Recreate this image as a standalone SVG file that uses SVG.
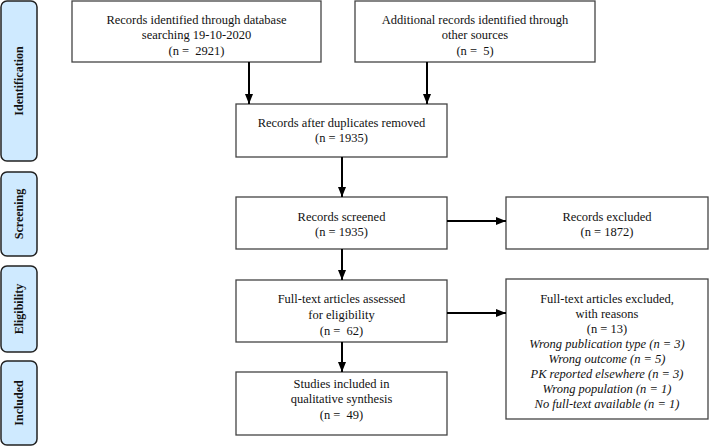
<svg xmlns="http://www.w3.org/2000/svg" width="709" height="446" viewBox="0 0 709 446">
<defs>
<marker id="ah" viewBox="0 0 10 8" refX="10" refY="4" markerWidth="10" markerHeight="8" markerUnits="userSpaceOnUse" orient="auto">
<path d="M0,0 L10,4 L0,8 Z" fill="#000"/>
</marker>
</defs>
<style>
.box{fill:#fff;stroke:#444;stroke-width:1.3}
.side{fill:#cfeaff;stroke:#222;stroke-width:1.5}
.t{font-family:"Liberation Serif","Times New Roman",serif;font-size:12.5px;fill:#111;text-anchor:middle;white-space:pre}
.i{font-style:italic}
.st{font-family:"Liberation Serif","Times New Roman",serif;font-size:12px;font-weight:bold;fill:#111;text-anchor:middle}
.c{stroke:#000;stroke-width:2;fill:none;marker-end:url(#ah)}
</style>
<rect width="709" height="446" fill="#fff"/>
<g id="phase-identification"><rect class="side" x="1" y="1" width="36" height="160" rx="6"/><text class="st" transform="translate(23,81) rotate(-90)">Identification</text></g>
<g id="phase-screening"><rect class="side" x="1" y="172" width="36" height="84" rx="6"/><text class="st" transform="translate(23,214) rotate(-90)">Screening</text></g>
<g id="phase-eligibility"><rect class="side" x="1" y="266" width="36" height="86" rx="6"/><text class="st" transform="translate(23,309) rotate(-90)">Eligibility</text></g>
<g id="phase-included"><rect class="side" x="1" y="361" width="36" height="84" rx="6"/><text class="st" transform="translate(23,403) rotate(-90)">Included</text></g>

<g id="db-records"><rect class="box" x="72" y="1" width="249" height="61"/>
<text class="t" x="196.5" y="24">Records identified through database</text>
<text class="t" x="196.5" y="39">searching 19-10-2020</text>
<text class="t" x="196.5" y="55">(n =  2921)</text></g>
<g id="other-records"><rect class="box" x="355" y="1" width="240" height="61"/>
<text class="t" x="475" y="24">Additional records identified through</text>
<text class="t" x="475" y="39">other sources</text>
<text class="t" x="475" y="55">(n =  5)</text></g>
<g id="dedup"><rect class="box" x="236" y="104" width="211" height="53"/>
<text class="t" x="341.5" y="127">Records after duplicates removed</text>
<text class="t" x="341.5" y="142">(n = 1935)</text></g>
<g id="screened"><rect class="box" x="236" y="197" width="211" height="52"/>
<text class="t" x="341.5" y="221">Records screened</text>
<text class="t" x="341.5" y="236">(n = 1935)</text></g>
<g id="excluded"><rect class="box" x="506" y="197" width="202" height="52"/>
<text class="t" x="607" y="221">Records excluded</text>
<text class="t" x="607" y="236">(n = 1872)</text></g>
<g id="fulltext"><rect class="box" x="236" y="280" width="211" height="62"/>
<text class="t" x="341.5" y="303">Full-text articles assessed</text>
<text class="t" x="341.5" y="319">for eligibility</text>
<text class="t" x="341.5" y="335">(n =  62)</text></g>
<g id="fulltext-excluded"><rect class="box" x="506" y="279" width="202" height="140"/>
<text class="t" x="607" y="303">Full-text articles excluded,</text>
<text class="t" x="607" y="318">with reasons</text>
<text class="t" x="607" y="333">(n = 13)</text>
<text class="t i" x="607" y="348">Wrong publication type (n = 3)</text>
<text class="t i" x="607" y="363">Wrong outcome (n = 5)</text>
<text class="t i" x="607" y="378">PK reported elsewhere (n = 3)</text>
<text class="t i" x="607" y="393">Wrong population (n = 1)</text>
<text class="t i" x="607" y="408">No full-text available (n = 1)</text></g>
<g id="included"><rect class="box" x="236" y="372" width="211" height="63"/>
<text class="t" x="341.5" y="388">Studies included in</text>
<text class="t" x="341.5" y="403">qualitative synthesis</text>
<text class="t" x="341.5" y="419">(n =  49)</text></g>

<g id="connectors">
<line class="c" x1="249" y1="62" x2="249" y2="104"/>
<line class="c" x1="427" y1="62" x2="427" y2="104"/>
<line class="c" x1="342" y1="157" x2="342" y2="197"/>
<line class="c" x1="447" y1="221" x2="506" y2="221"/>
<line class="c" x1="342" y1="249" x2="342" y2="280"/>
<line class="c" x1="447" y1="313" x2="506" y2="313"/>
<line class="c" x1="342" y1="342" x2="342" y2="372"/>
</g>
</svg>
